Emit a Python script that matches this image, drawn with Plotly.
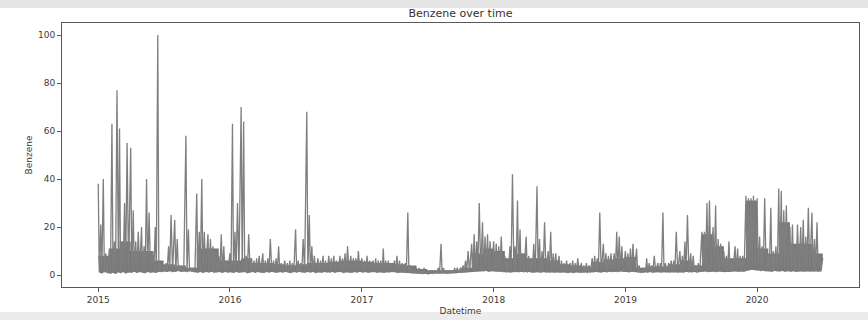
import pandas as pd
import plotly.graph_objects as go

# ---- data ----
# four "peak" readings per month (around days 1, 8, 15, 22)
peaks_2015 = [38, 21, 40, 9,   11, 63, 14, 77,   61, 14, 30, 55,   53, 27, 14, 18,
              20, 12, 40, 26,  10, 20, 100, 5,   4, 5, 12, 25,     23, 15, 4, 3,
              58, 19, 3, 3,    34, 18, 40, 18,   17, 15, 12, 10,   8, 17, 12, 6]
peaks_2016 = [9, 63, 18, 30,   70, 64, 8, 17,    7, 6, 7, 8,       9, 6, 7, 15,
              6, 7, 12, 5,     6, 5, 6, 5,       19, 6, 5, 15,     68, 25, 12, 8,
              7, 6, 8, 6,      8, 7, 8, 6,       8, 7, 9, 12,      8, 7, 7, 10]
peaks_2017 = [7, 6, 8, 6,      6, 7, 6, 6,       11, 6, 6, 5,      6, 8, 6, 5,
              5, 26, 4, 3,     3, 3, 2, 3,       2, 2, 2, 2,       3, 13, 3, 2,
              2, 2, 3, 3,      3, 4, 6, 10,      13, 17, 14, 30,   22, 16, 17, 14]
peaks_2018 = [14, 13, 12, 16,  8, 6, 12, 42,     12, 31, 19, 9,    16, 8, 7, 13,
              37, 15, 10, 22,  10, 18, 9, 9,     8, 6, 5, 6,       5, 6, 5, 7,
              5, 4, 5, 4,      7, 8, 7, 26,      13, 9, 8, 9,      9, 18, 16, 12]
peaks_2019 = [10, 9, 11, 13,   11, 4, 3, 3,      7, 5, 4, 8,       5, 5, 26, 5,
              5, 6, 6, 18,     10, 8, 14, 25,    9, 8, 4, 5,       18, 18, 30, 31,
              20, 29, 15, 13,  10, 8, 14, 6,     12, 11, 8, 8,     33, 32, 32, 33]
peaks_2020 = [32, 16, 12, 32,  8, 28, 10, 12,    36, 35, 27, 29,   20, 21, 11, 21,
              20, 23, 16, 28,  26, 15, 22, 8]

# four "trough" readings per month (around days 4, 11, 18, 26)
troughs_2015 = [1.0, 0.6, 1.2, 0.8,  0.5, 0.9, 0.4, 1.1,  0.7, 1.3, 0.6, 1.0,  0.9, 1.4, 0.8, 1.2,
                1.0, 0.7, 1.3, 0.9,  1.1, 0.8, 1.4, 1.2,  1.5, 1.3, 1.6, 1.2,  1.4, 1.7, 1.3, 1.5,
                1.2, 1.6, 1.4, 1.1,  0.9, 1.3, 0.8, 1.2,  1.0, 1.4, 0.9, 1.1,  1.2, 0.8, 1.3, 1.0]
troughs_2016 = [1.1, 0.8, 1.3, 0.9,  1.0, 1.2, 0.7, 1.1,  1.3, 0.9, 1.2, 1.0,  0.8, 1.2, 1.0, 1.3,
                1.1, 0.9, 1.2, 1.0,  1.3, 1.0, 0.8, 1.2,  1.0, 1.3, 1.1, 0.9,  1.2, 1.0, 1.3, 0.8,
                1.1, 0.9, 1.2, 1.0,  1.0, 1.3, 0.9, 1.2,  1.2, 0.8, 1.1, 1.0,  0.9, 1.2, 1.0, 1.3]
troughs_2017 = [1.0, 1.2, 0.9, 1.1,  1.2, 0.9, 1.1, 1.0,  0.9, 1.1, 1.0, 1.2,  1.1, 0.8, 1.0, 0.9,
                0.8, 0.9, 0.7, 0.6,  0.5, 0.6, 0.4, 0.5,  0.3, 0.5, 0.4, 0.6,  0.5, 0.7, 0.6, 0.5,
                0.6, 0.8, 0.7, 0.9,  0.9, 1.0, 1.1, 1.2,  1.3, 1.5, 1.4, 1.6,  1.5, 1.7, 1.4, 1.6]
troughs_2018 = [1.5, 1.3, 1.4, 1.2,  1.1, 1.3, 1.0, 1.2,  1.2, 1.0, 1.3, 1.1,  1.0, 1.2, 0.9, 1.1,
                1.1, 0.9, 1.2, 1.0,  1.0, 1.2, 0.9, 1.1,  0.9, 1.1, 1.0, 0.8,  1.0, 0.8, 1.1, 0.9,
                0.9, 1.1, 0.8, 1.0,  1.1, 1.3, 1.2, 1.0,  1.3, 1.1, 1.4, 1.2,  1.4, 1.2, 1.5, 1.3]
troughs_2019 = [1.3, 1.1, 1.4, 1.2,  1.0, 0.8, 0.9, 1.1,  1.0, 1.2, 0.9, 1.1,  1.1, 0.9, 1.2, 1.0,
                1.0, 1.2, 1.1, 0.9,  1.2, 1.0, 1.3, 1.1,  1.1, 1.3, 1.0, 1.2,  1.3, 1.5, 1.2, 1.4,
                1.4, 1.2, 1.5, 1.3,  1.2, 1.4, 1.3, 1.5,  1.5, 1.3, 1.6, 1.4,  1.8, 2.0, 2.2, 2.0]
troughs_2020 = [1.9, 1.6, 1.8, 1.5,  1.6, 1.4, 1.7, 1.5,  1.5, 1.7, 1.4, 1.6,  1.4, 1.6, 1.3, 1.5,
                1.5, 1.3, 1.6, 1.4,  1.4, 1.6, 1.3, 1.5]

# upper edge of the dense (solid) band, one reading per month (held for the month)
core_2015 = [8, 11, 14, 10, 10, 6, 4.5, 4, 3, 11, 11, 6]
core_2016 = [6, 7, 5, 5, 4.5, 4, 4.5, 5, 5, 5.5, 6, 6]
core_2017 = [5.5, 5, 5, 4.5, 4, 2.5, 2, 2, 2, 3, 9, 11]
core_2018 = [10, 7, 9, 7, 7, 6, 4.5, 4, 3.5, 5.5, 6.5, 7]
core_2019 = [7.5, 3, 3.5, 3.5, 4.5, 6, 4, 17, 12, 7, 7, 31]
core_2020 = [11, 9, 22, 13, 13, 9, 7]   # last reading is 2020-07-01

peak_days = [1, 8, 15, 22]
trough_days = [4, 11, 18, 26]
last_date = "2020-07-01"
last_value = 7

x_tick_labels = ["2015", "2016", "2017", "2018", "2019", "2020"]
y_tick_values = [0, 20, 40, 60, 80, 100]

# ---- build the series ----
peaks = peaks_2015 + peaks_2016 + peaks_2017 + peaks_2018 + peaks_2019 + peaks_2020
troughs = troughs_2015 + troughs_2016 + troughs_2017 + troughs_2018 + troughs_2019 + troughs_2020
core = core_2015 + core_2016 + core_2017 + core_2018 + core_2019 + core_2020
months = pd.date_range("2015-01-01", "2020-06-01", freq="MS")

xs, ys = [], []
tx, ty = [], []
for i, m in enumerate(months):
    for k in range(4):
        xs.append(m + pd.Timedelta(days=peak_days[k] - 1))
        ys.append(peaks[4 * i + k])
        td = m + pd.Timedelta(days=trough_days[k] - 1)
        xs.append(td)
        ys.append(troughs[4 * i + k])
        tx.append(td)
        ty.append(troughs[4 * i + k])
xs.append(pd.Timestamp(last_date))
ys.append(last_value)

core_x = list(months) + [pd.Timestamp(last_date)]

span = xs[-1] - xs[0]
x_range = [xs[0] - 0.05 * span, xs[-1] + 0.05 * span]
tick_dates = [pd.Timestamp(f"{t}-01-01") for t in x_tick_labels]

BAND = "#787878"
LINE = "#7f7f7f"
fig = go.Figure()
# lower edge of the dense band (no line, fill reference)
fig.add_trace(go.Scatter(x=tx, y=ty, mode="lines", line=dict(width=0, color=BAND),
                         hoverinfo="skip"))
# dense band filled between lower edge and its upper edge
fig.add_trace(go.Scatter(x=core_x, y=core, mode="lines",
                         line=dict(width=0, color=BAND, shape="hv"),
                         fill="tonexty", fillcolor=BAND, hoverinfo="skip"))
# the benzene series
fig.add_trace(go.Scatter(x=xs, y=ys, mode="lines",
                         line=dict(color=LINE, width=1.3, simplify=False),
                         hoverinfo="skip"))

axis_common = dict(showline=True, linecolor="#5a5a5a", linewidth=1, mirror=True,
                   ticks="outside", ticklen=4, tickwidth=1, tickcolor="#5a5a5a",
                   showgrid=False, zeroline=False, automargin=False,
                   tickfont=dict(family="DejaVu Sans", size=9, color="#3a3a3a"))

fig.update_layout(
    width=868, height=320,
    margin=dict(l=62, r=9, t=23, b=33),
    paper_bgcolor="white", plot_bgcolor="white",
    font=dict(family="DejaVu Sans", size=9, color="#3a3a3a"),
    showlegend=False,
    title=dict(text="Benzene over time", x=0.5, xref="paper", xanchor="center",
               y=1 - 13.5 / 320, yref="container", yanchor="middle",
               font=dict(family="DejaVu Sans", size=11, color="#333333")),
    xaxis=dict(range=x_range, tickvals=tick_dates, ticktext=x_tick_labels,
               title=dict(text="Datetime", standoff=3,
                          font=dict(family="DejaVu Sans", size=9, color="#3a3a3a")),
               **axis_common),
    yaxis=dict(range=[-5, 105], tickvals=y_tick_values,
               ticktext=[str(v) for v in y_tick_values],
               title=dict(text="Benzene", standoff=3,
                          font=dict(family="DejaVu Sans", size=9, color="#3a3a3a")),
               **axis_common),
    shapes=[
        dict(type="rect", xref="paper", yref="paper", layer="below",
             x0=-0.08, x1=1.02, y0=(287 - 8) / 264, y1=(287 + 2) / 264,
             fillcolor="#e4e4e4", line=dict(width=0)),
        dict(type="rect", xref="paper", yref="paper", layer="below",
             x0=-0.08, x1=1.02, y0=(287 - 322) / 264, y1=(287 - 312) / 264,
             fillcolor="#ececec", line=dict(width=0)),
    ],
)

fig.write_html("out.html")
